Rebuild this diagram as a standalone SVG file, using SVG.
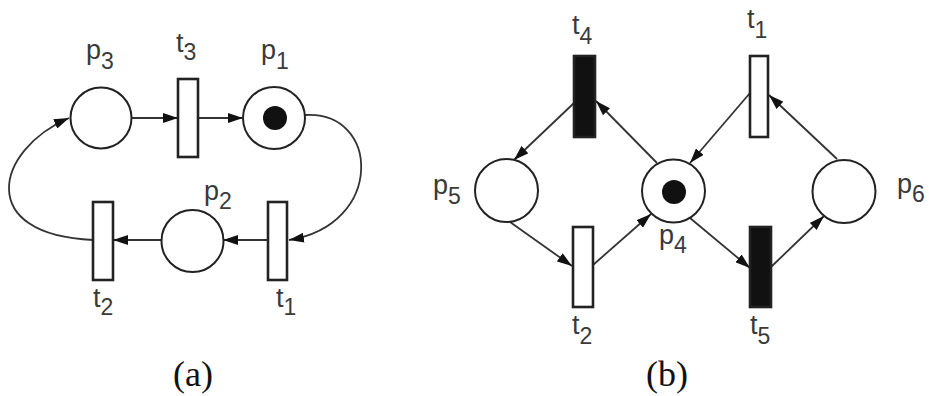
<svg xmlns="http://www.w3.org/2000/svg" width="929" height="396" viewBox="0 0 929 396">
<defs>
<style>
.place{fill:#fff;stroke:#222;stroke-width:2}
.trans{fill:#fff;stroke:#222;stroke-width:2.6}
.trans.black{fill:#111}
.token{fill:#111}
.arc{fill:none;stroke:#333;stroke-width:1.8;marker-end:url(#ah)}
.lbl{font-family:"Liberation Sans",Arial,sans-serif;font-size:27px;fill:#3a3a3a}
.sub{font-size:23px}
.cap{font-family:"Liberation Serif","Times New Roman",serif;font-size:36px;fill:#111;text-anchor:middle}
</style>
<marker id="ah" viewBox="0 0 15 10" refX="15" refY="5" markerWidth="15" markerHeight="10" markerUnits="userSpaceOnUse" orient="auto">
<path d="M0,0 L15,5 L0,10 z" fill="#111"/>
</marker>
</defs>
<g id="connectors">
<line class="arc" x1="131" y1="118" x2="178" y2="118"/>
<line class="arc" x1="198" y1="118" x2="243" y2="118"/>
<path class="arc" d="M305,115 C380,110 385,225 289,240"/>
<line class="arc" x1="268" y1="240" x2="223" y2="240"/>
<line class="arc" x1="162" y1="240" x2="113" y2="240"/>
<path class="arc" d="M93,240 C-25,235 -5,150 69,118"/>
<line class="arc" x1="574" y1="103" x2="514" y2="160"/>
<line class="arc" x1="657" y1="163" x2="596" y2="101"/>
<line class="arc" x1="750" y1="93" x2="690" y2="163"/>
<line class="arc" x1="837" y1="159" x2="769" y2="95"/>
<line class="arc" x1="510" y1="222" x2="572" y2="266"/>
<line class="arc" x1="593" y1="265" x2="651" y2="214"/>
<line class="arc" x1="690" y1="218" x2="750" y2="268"/>
<line class="arc" x1="771" y1="267" x2="824" y2="216"/>
</g>
<g id="a-p3"><circle class="place" cx="101" cy="118" r="30.5"/><text class="lbl" x="86" y="59">p<tspan class="sub" dy="10">3</tspan></text></g>
<g id="a-t3"><rect class="trans" x="178" y="79" width="20" height="78"/><text class="lbl" x="176" y="52">t<tspan class="sub" dy="8">3</tspan></text></g>
<g id="a-p1"><circle class="place" cx="274" cy="118" r="31"/><circle class="token" cx="275" cy="118" r="12"/><text class="lbl" x="261" y="59">p<tspan class="sub" dy="10">1</tspan></text></g>
<g id="a-p2"><circle class="place" cx="192.5" cy="241" r="31"/><text class="lbl" x="204" y="200">p<tspan class="sub" dy="9">2</tspan></text></g>
<g id="a-t1"><rect class="trans" x="268" y="202" width="19" height="78"/><text class="lbl" x="276" y="307">t<tspan class="sub" dy="8">1</tspan></text></g>
<g id="a-t2"><rect class="trans" x="93" y="202" width="20" height="78"/><text class="lbl" x="93" y="307">t<tspan class="sub" dy="8">2</tspan></text></g>
<g id="b-t4"><rect class="trans black" x="574" y="56" width="21" height="81"/><text class="lbl" x="572" y="34">t<tspan class="sub" dy="10">4</tspan></text></g>
<g id="b-t1"><rect class="trans" x="750" y="56" width="18" height="81"/><text class="lbl" x="747" y="28">t<tspan class="sub" dy="10">1</tspan></text></g>
<g id="b-p5"><circle class="place" cx="506.5" cy="190.5" r="31.5"/><text class="lbl" x="433" y="194">p<tspan class="sub" dy="10">5</tspan></text></g>
<g id="b-p4"><circle class="place" cx="673.5" cy="191" r="31.5"/><circle class="token" cx="674" cy="192" r="12"/><text class="lbl" x="659" y="244">p<tspan class="sub" dy="9">4</tspan></text></g>
<g id="b-p6"><circle class="place" cx="844" cy="191.5" r="31.5"/><text class="lbl" x="897" y="193">p<tspan class="sub" dy="9">6</tspan></text></g>
<g id="b-t2"><rect class="trans" x="573" y="227" width="20" height="80"/><text class="lbl" x="572" y="334">t<tspan class="sub" dy="10">2</tspan></text></g>
<g id="b-t5"><rect class="trans black" x="750" y="227" width="21" height="80"/><text class="lbl" x="750" y="334">t<tspan class="sub" dy="10">5</tspan></text></g>
<text class="cap" x="193" y="386">(a)</text>
<text class="cap" x="667" y="386">(b)</text>
</svg>
